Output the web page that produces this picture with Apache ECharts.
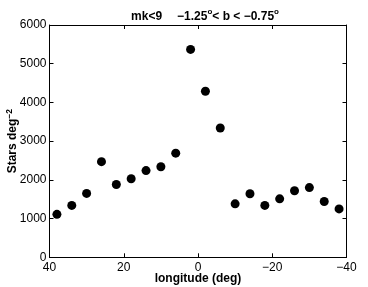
<!DOCTYPE html>
<html><head><meta charset="utf-8">
<script src="https://cdn.jsdelivr.net/npm/echarts@6/dist/echarts.min.js"></script>
<style>html,body{margin:0;padding:0;background:#fff}#c{width:368px;height:287px}</style>
</head><body><div id="c"></div>
<script>
const longitudes = [38, 34, 30, 26, 22, 18, 14, 10, 6, 2, -2, -6, -10, -14, -18, -22, -26, -30, -34, -38];
const density = [1110, 1340, 1650, 2470, 1880, 2030, 2240, 2340, 2690, 5370, 4290, 3340, 1380, 1640, 1340, 1510, 1720, 1800, 1440, 1250];
const xTickValues = [40, 20, 0, -20, -40];
const yTickValues = [0, 1000, 2000, 3000, 4000, 5000, 6000];
const titleText = '{a|mk<9}   {a|\u22121.25}{s|o}{a|< b < \u22120.75}{s|o}';
const xName = 'longitude (deg)';
const yName = 'Stars deg{s|\u22122}';

const font = 'Liberation Sans, Arial, Helvetica, sans-serif';
const chart = echarts.init(document.getElementById('c'), null, {renderer: 'canvas'});
const pts = longitudes.map((l, i) => [l, density[i]]);
const fmt = v => String(v).replace('-', '\u2212');
const axisLine = {show: true, onZero: false, lineStyle: {color: '#000', width: 1}};
const tick = {show: true, inside: true, length: 4, lineStyle: {color: '#000', width: 1}};
chart.setOption({
  animation: false,
  backgroundColor: '#fff',
  title: {
    text: titleText, left: 200, top: 3, textAlign: 'center',
    textStyle: {
      rich: {
        a: {fontFamily: font, fontWeight: 'bold', fontSize: 12, color: '#000', lineHeight: 16},
        s: {fontFamily: font, fontWeight: 'bold', fontSize: 8, color: '#000', verticalAlign: 'top', lineHeight: 16, padding: [0, 0, 6, 0]}
      }
    }
  },
  grid: {left: 49.5, right: 21.5, top: 25, bottom: 29.7, show: false, containLabel: false, outerBoundsMode: 'none'},
  xAxis: [{
    type: 'value', min: -40, max: 40, interval: 20, inverse: true, position: 'bottom',
    axisLine, axisTick: tick, splitLine: {show: false},
    axisLabel: {formatter: fmt, color: '#000', fontFamily: font, fontSize: 12, margin: 4},
    name: xName, nameLocation: 'middle', nameGap: 15, nameMoveOverlap: false,
    nameTextStyle: {fontFamily: font, fontWeight: 'bold', fontSize: 12, color: '#000'}
  }, {
    type: 'value', min: -40, max: 40, interval: 20, inverse: true, position: 'top',
    axisLine, axisTick: tick, splitLine: {show: false}, axisLabel: {show: false}
  }],
  yAxis: [{
    type: 'value', min: 0, max: 6000, interval: 1000, position: 'left',
    axisLine, axisTick: tick, splitLine: {show: false},
    axisLabel: {formatter: v => String(v), color: '#000', fontFamily: font, fontSize: 12, margin: 3},
    name: yName, nameLocation: 'middle', nameGap: 29, nameRotate: 90, nameMoveOverlap: false,
    nameTextStyle: {
      rich: {
        a: {fontFamily: font, fontWeight: 'bold', fontSize: 12, color: '#000'},
        s: {fontFamily: font, fontWeight: 'bold', fontSize: 8.5, color: '#000', verticalAlign: 'top', padding: [0, 0, 6, 0]}
      },
      fontFamily: font, fontWeight: 'bold', fontSize: 12, color: '#000'
    }
  }, {
    type: 'value', min: 0, max: 6000, interval: 1000, position: 'right',
    axisLine, axisTick: tick, splitLine: {show: false}, axisLabel: {show: false}
  }],
  series: [{
    type: 'scatter', data: pts, symbol: 'circle', symbolSize: 9,
    itemStyle: {color: '#000', opacity: 1}
  }]
});
</script></body></html>
